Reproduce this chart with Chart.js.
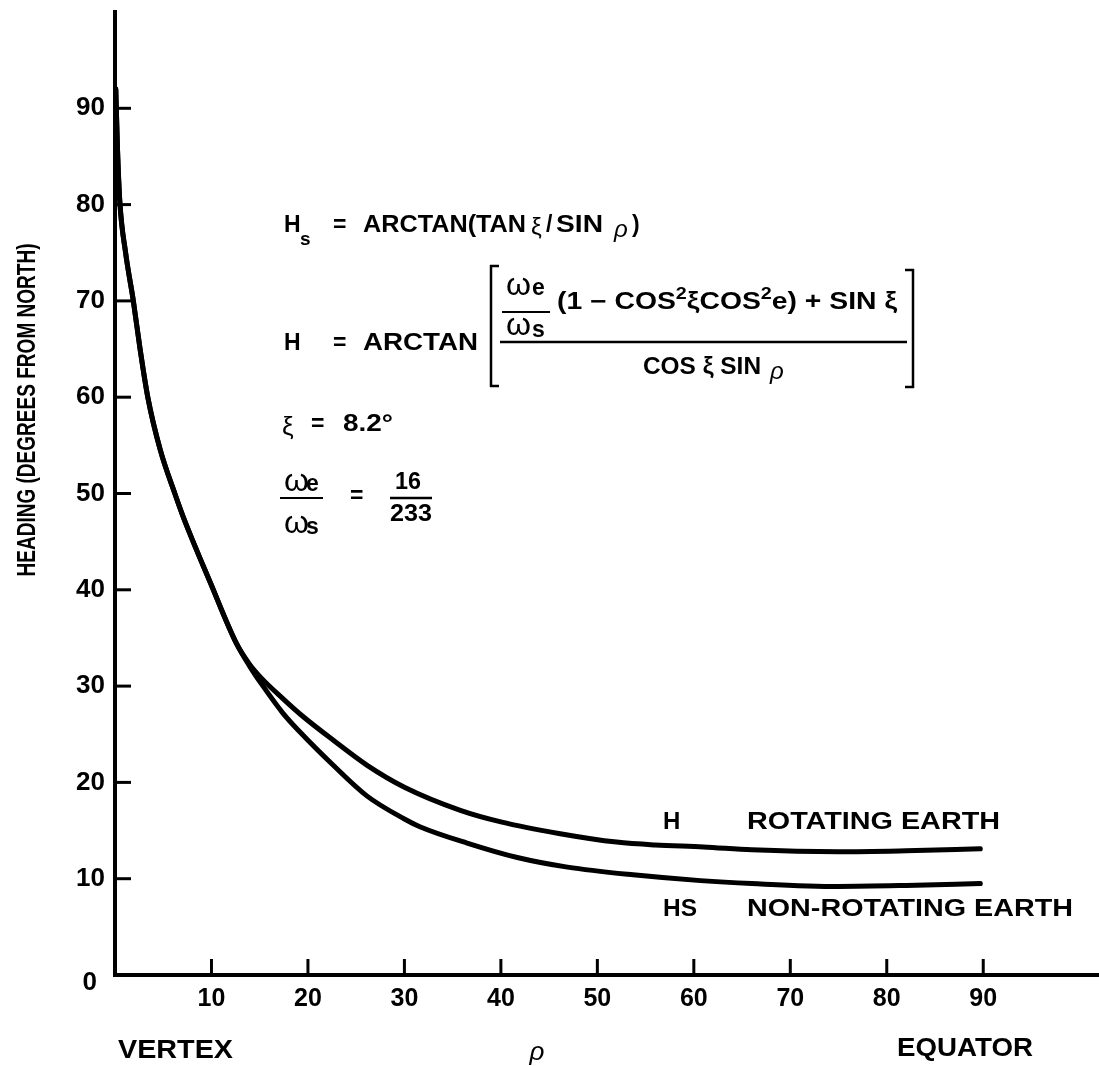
<!DOCTYPE html>
<html>
<head>
<meta charset="utf-8">
<script src="https://cdn.jsdelivr.net/npm/chart.js@4/dist/chart.umd.min.js"></script>
<style>
  html, body { margin: 0; padding: 0; background: #fff; }
  canvas { display: block; }
</style>
</head>
<body>
<canvas id="headingChart" width="1099" height="1066"></canvas>
<script>
'use strict';

// Values (rho in degrees, heading in degrees from north)
const rhoRotating = [0.08, 0.25, 0.5, 1.1, 1.9, 2.6, 3.4, 4.7, 6.2, 7.1, 9.9, 12.6, 14, 15.2, 17.4, 19.3, 22.6, 26.1, 30, 35.8, 40, 46, 52, 56, 61, 66, 75, 82, 89.7];
const headingRotating = [92, 86, 80.3, 75, 70, 65, 60, 54.5, 50, 47.5, 40.7, 34.4, 32.2, 30.8, 28.7, 27.0, 24.4, 21.8, 19.5, 17.1, 15.9, 14.7, 13.8, 13.5, 13.3, 13.0, 12.8, 12.9, 13.1];

const rhoNonRotating = [0.08, 0.25, 0.5, 1.1, 1.9, 2.6, 3.4, 4.7, 6.2, 7.1, 9.9, 12.6, 14, 15.2, 17.4, 19.2, 22.6, 26.1, 30, 31.6, 36.5, 41.7, 46.9, 53.7, 60.7, 66, 75, 82, 89.7];
const headingNonRotating = [92, 86, 80.3, 75, 70, 65, 60, 54.5, 50, 47.5, 40.7, 34.4, 32.0, 30.2, 27.2, 25.2, 21.8, 18.6, 16.2, 15.4, 13.7, 12.2, 11.2, 10.4, 9.8, 9.5, 9.2, 9.3, 9.5];

const xTicks = [10, 20, 30, 40, 50, 60, 70, 80, 90];
const yTicks = [10, 20, 30, 40, 50, 60, 70, 80, 90];

const FONT = '"Liberation Sans", Arial, sans-serif';

function toPoints(xs, ys) {
    return xs.map((x, i) => ({ x: x, y: ys[i] }));
}

/**
 * Draw text, optionally stretched/condensed to a given width
 */
function put(ctx, s, x, y, size, width, align, weight) {
    ctx.save();
    ctx.font = `${weight || 'bold'} ${size}px ${FONT}`;
    ctx.textBaseline = 'middle';
    ctx.textAlign = 'left';
    ctx.fillStyle = '#000';
    const w = ctx.measureText(s).width;
    const sx = width ? width / w : 1;
    let x0 = x;
    if (align === 'center') x0 = x - w * sx / 2;
    else if (align === 'right') x0 = x - w * sx;
    ctx.translate(x0, y);
    ctx.scale(sx, 1);
    ctx.fillText(s, 0, 0);
    ctx.restore();
}

/**
 * Draw a run of text pieces (for superscripts) squeezed to a width
 */
function run(ctx, x, y, width, parts) {
    ctx.save();
    ctx.textBaseline = 'middle';
    ctx.fillStyle = '#000';
    let total = 0;
    parts.forEach(p => {
        ctx.font = `bold ${p[1]}px ${FONT}`;
        total += ctx.measureText(p[0]).width;
    });
    const sx = width / total;
    let cx = x;
    parts.forEach(p => {
        ctx.font = `bold ${p[1]}px ${FONT}`;
        const w = ctx.measureText(p[0]).width;
        ctx.save();
        ctx.translate(cx, y + p[2]);
        ctx.scale(sx, 1);
        ctx.fillText(p[0], 0, 0);
        ctx.restore();
        cx += w * sx;
    });
    ctx.restore();
}

function line(ctx, x1, y1, x2, y2, w) {
    ctx.beginPath();
    ctx.moveTo(x1, y1);
    ctx.lineTo(x2, y2);
    ctx.lineWidth = w;
    ctx.stroke();
}

const decorations = {
    id: 'decorations',
    afterDraw(chart) {
        const ctx = chart.ctx;
        const xs = chart.scales.x;
        const ys = chart.scales.y;
        const area = chart.chartArea;
        ctx.save();
        ctx.strokeStyle = '#000';
        ctx.lineCap = 'butt';

        // inward tick marks and their labels
        yTicks.forEach(v => {
            const py = ys.getPixelForValue(v);
            line(ctx, area.left, py, area.left + 16, py, 3);
            put(ctx, String(v), area.left - 10, py, 26, null, 'right');
        });
        xTicks.forEach(v => {
            const px = xs.getPixelForValue(v);
            line(ctx, px, area.bottom, px, area.bottom - 16, 3);
            put(ctx, String(v), px, area.bottom + 24, 25, null, 'center');
        });
        put(ctx, '0', area.left - 18, area.bottom + 8, 26, null, 'right');

        // axis captions
        put(ctx, 'VERTEX', 118, 1051, 26, 115);
        put(ctx, 'ρ', 537, 1053, 26, null, 'center', 'italic normal');
        put(ctx, 'EQUATOR', 897, 1049, 26, 136);

        ctx.save();
        ctx.translate(28, 410);
        ctx.rotate(-Math.PI / 2);
        put(ctx, 'HEADING (DEGREES FROM NORTH)', 0, 0, 26, 333, 'center');
        ctx.restore();

        // curve labels
        put(ctx, 'H', 663, 822, 24);
        put(ctx, 'ROTATING EARTH', 747, 822, 24, 253);
        put(ctx, 'HS', 663, 909, 24, 34);
        put(ctx, 'NON-ROTATING EARTH', 747, 909, 24, 326);

        // formula: Hs
        put(ctx, 'H', 284, 226, 23);
        put(ctx, 's', 300, 240, 19);
        put(ctx, '=', 333, 226, 23);
        put(ctx, 'ARCTAN(TAN', 363, 226, 23, 163);
        put(ctx, 'ξ', 531, 228, 24, null, null, 'normal');
        put(ctx, '/', 546, 226, 23);
        put(ctx, 'SIN', 556, 226, 23, 47);
        put(ctx, 'ρ', 614, 230, 24, null, null, 'italic normal');
        put(ctx, ')', 632, 226, 23);

        // formula: H
        put(ctx, 'H', 284, 344, 23);
        put(ctx, '=', 333, 344, 23);
        put(ctx, 'ARCTAN', 363, 344, 23, 115);
        // brackets
        line(ctx, 491, 265, 491, 387, 2.5);
        line(ctx, 490, 266, 499, 266, 2.5);
        line(ctx, 490, 386, 499, 386, 2.5);
        line(ctx, 913, 269, 913, 388, 2.5);
        line(ctx, 905, 270, 914, 270, 2.5);
        line(ctx, 905, 387, 914, 387, 2.5);
        // numerator
        put(ctx, 'ω', 506, 286, 32, null, null, 'normal');
        put(ctx, 'e', 532, 289, 23);
        line(ctx, 502, 312, 550, 312, 2);
        put(ctx, 'ω', 506, 326, 32, null, null, 'normal');
        put(ctx, 's', 532, 331, 23);
        run(ctx, 557, 303, 340, [
            ['(1 − COS', 23, 0],
            ['2', 16, -8],
            ['ξCOS', 23, 0],
            ['2', 16, -8],
            ['e) + SIN ξ', 23, 0]
        ]);
        line(ctx, 500, 342, 907, 342, 2.5);
        put(ctx, 'COS ξ SIN', 643, 368, 23, 118);
        put(ctx, 'ρ', 770, 372, 24, null, null, 'italic normal');

        // xi
        put(ctx, 'ξ', 282, 428, 26, null, null, 'normal');
        put(ctx, '=', 311, 425, 23);
        put(ctx, '8.2°', 343, 425, 23, 50);

        // omega ratio
        put(ctx, 'ω', 284, 482, 32, null, null, 'normal');
        put(ctx, 'e', 306, 485, 23);
        line(ctx, 280, 498, 323, 498, 2);
        put(ctx, 'ω', 284, 524, 32, null, null, 'normal');
        put(ctx, 's', 306, 528, 23);
        put(ctx, '=', 350, 497, 23);
        put(ctx, '16', 395, 483, 23, 26);
        line(ctx, 390, 498, 432, 498, 2.5);
        put(ctx, '233', 390, 515, 23, 42);

        ctx.restore();
    }
};

const curveStyle = {
    showLine: true,
    pointRadius: 0,
    borderWidth: 5,
    borderColor: '#000',
    backgroundColor: '#000',
    borderCapStyle: 'round',
    borderJoinStyle: 'round',
    cubicInterpolationMode: 'monotone',
    fill: false,
    clip: false
};

new Chart(document.getElementById('headingChart'), {
    type: 'scatter',
    data: {
        datasets: [
            Object.assign({ label: 'H ROTATING EARTH', data: toPoints(rhoRotating, headingRotating) }, curveStyle),
            Object.assign({ label: 'HS NON-ROTATING EARTH', data: toPoints(rhoNonRotating, headingNonRotating) }, curveStyle)
        ]
    },
    options: {
        responsive: false,
        animation: false,
        layout: { padding: { left: 115, top: 12, right: 0, bottom: 91 } },
        plugins: {
            legend: { display: false },
            tooltip: { enabled: false }
        },
        scales: {
            x: {
                type: 'linear',
                min: 0,
                max: 102,
                grid: { display: false, drawTicks: false },
                ticks: { display: false },
                border: { display: true, width: 4, color: '#000' },
                afterFit: s => { s.height = 0; }
            },
            y: {
                type: 'linear',
                min: 0,
                max: 100,
                grid: { display: false, drawTicks: false },
                ticks: { display: false },
                border: { display: true, width: 4, color: '#000' },
                afterFit: s => { s.width = 0; }
            }
        }
    },
    plugins: [decorations]
});
</script>
</body>
</html>
